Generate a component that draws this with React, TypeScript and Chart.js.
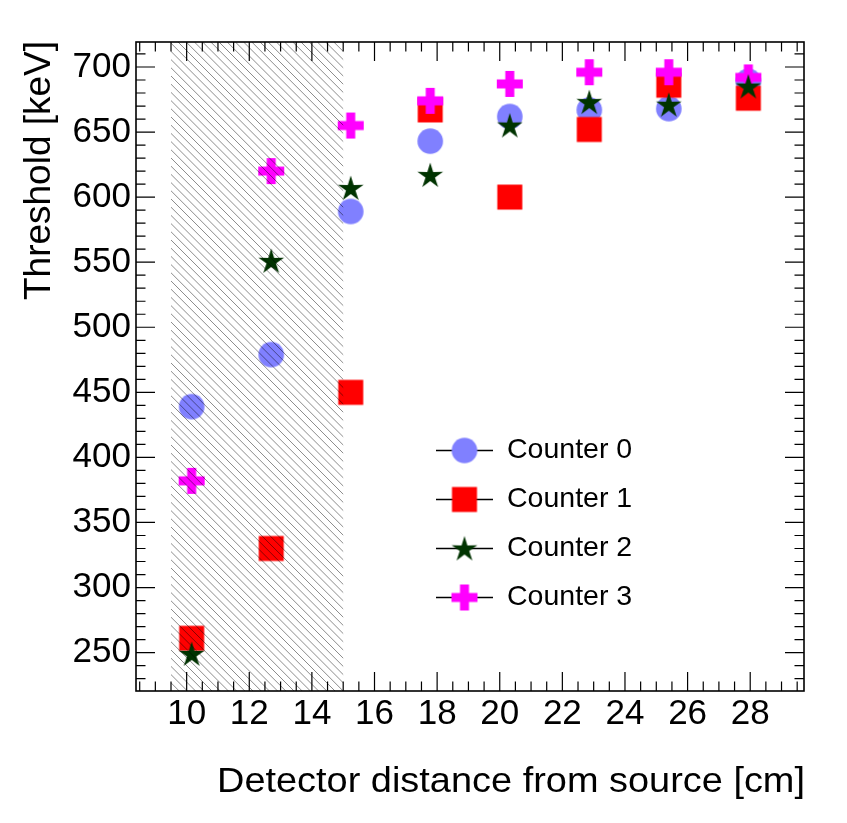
import { useEffect, useRef } from "react";
import { Chart, registerables } from "chart.js";
import type { Plugin } from "chart.js";

Chart.register(...registerables);

// detector distances (4..11 inch in cm)
const distances = [10.16, 12.7, 15.24, 17.78, 20.32, 22.86, 25.4, 27.94];
const counter0 = [439, 479, 589, 643, 662, 667, 668, 689];
const counter1 = [261, 330, 450, 667, 600, 652, 686, 676];
const counter2 = [249, 551, 607, 617, 655, 673, 671, 685];
const counter3 = [382, 620, 655, 674, 687, 696, 696, 692];
const seriesNames = ["Counter 0", "Counter 1", "Counter 2", "Counter 3"];

const xTicks = [10, 12, 14, 16, 18, 20, 22, 24, 26, 28];
const yTicks = [250, 300, 350, 400, 450, 500, 550, 600, 650, 700];
const shadedRange = [9.5, 15];
const xRange = [8.382, 29.718];
const yRange = [220.5, 719.2];

const xTitle = "Detector distance from source [cm]";
const yTitle = "Threshold [keV]";
const FONT = "'Liberation Sans', Arial, Helvetica, sans-serif";

function makeMarker(kind: string, color: string): HTMLCanvasElement {
  const c = document.createElement("canvas");
  const s = 30;
  c.width = s;
  c.height = s;
  const g = c.getContext("2d")!;
  const m = s / 2;
  g.fillStyle = color;
  if (kind === "circle") {
    g.beginPath();
    g.arc(m, m, 12.8, 0, Math.PI * 2);
    g.fill();
  } else if (kind === "square") {
    g.fillRect(m - 12.5, m - 12.5, 25, 25);
  } else if (kind === "star") {
    g.beginPath();
    for (let i = 0; i < 10; i++) {
      const r = i % 2 === 0 ? 13.5 : 5;
      const ang = -Math.PI / 2 + (i * Math.PI) / 5;
      const px = m + r * Math.cos(ang);
      const py = m + 1 + r * Math.sin(ang);
      if (i === 0) g.moveTo(px, py);
      else g.lineTo(px, py);
    }
    g.closePath();
    g.fill();
  } else {
    g.fillRect(m - 4.5, m - 13, 9, 26);
    g.fillRect(m - 13, m - 4.5, 26, 9);
  }
  return c;
}

function fitText(
  ctx: CanvasRenderingContext2D,
  text: string,
  width: number
) {
  const w = ctx.measureText(text).width;
  ctx.scale(width / w, 1);
  ctx.fillText(text, 0, 0);
}

const rootStyle: Plugin<"scatter"> = {
  id: "rootStyle",
  afterDatasetsDraw(chart) {
    const { ctx, chartArea: a, scales } = chart;
    const x0 = scales.x.getPixelForValue(shadedRange[0]);
    const x1 = scales.x.getPixelForValue(shadedRange[1]);
    const h = a.bottom - a.top;
    ctx.save();
    ctx.beginPath();
    ctx.rect(x0, a.top, x1 - x0, h);
    ctx.clip();
    ctx.strokeStyle = "rgba(0,0,0,0.7)";
    ctx.lineWidth = 0.65;
    ctx.beginPath();
    for (let s = x0 - h; s < x1; s += 8.2) {
      ctx.moveTo(s, a.top);
      ctx.lineTo(s + h, a.bottom);
    }
    ctx.stroke();
    ctx.restore();
  },
  afterDraw(chart) {
    const { ctx, chartArea: a, scales } = chart;
    const xs = scales.x;
    const ys = scales.y;
    ctx.save();

    // ticks on all four sides, ROOT style
    ctx.strokeStyle = "#000";
    ctx.lineWidth = 1.2;
    ctx.beginPath();
    for (let v = 8.5; v <= 29.5; v += 0.5) {
      const len = xTicks.includes(v) ? 19 : 9.5;
      const p = xs.getPixelForValue(v);
      ctx.moveTo(p, a.bottom);
      ctx.lineTo(p, a.bottom - len);
      ctx.moveTo(p, a.top);
      ctx.lineTo(p, a.top + len);
    }
    for (let v = 230; v <= 710; v += 10) {
      const len = yTicks.includes(v) ? 19 : 9.5;
      const p = ys.getPixelForValue(v);
      ctx.moveTo(a.left, p);
      ctx.lineTo(a.left + len, p);
      ctx.moveTo(a.right, p);
      ctx.lineTo(a.right - len, p);
    }
    ctx.stroke();

    ctx.lineWidth = 1.6;
    ctx.strokeRect(a.left, a.top, a.right - a.left, a.bottom - a.top);

    // axis titles
    ctx.fillStyle = "#000";
    ctx.font = `35px ${FONT}`;
    ctx.textBaseline = "alphabetic";
    ctx.textAlign = "left";
    ctx.save();
    ctx.translate(217, 792);
    fitText(ctx, xTitle, 588);
    ctx.restore();

    ctx.font = `36px ${FONT}`;
    ctx.save();
    ctx.translate(50, 300);
    ctx.rotate(-Math.PI / 2);
    fitText(ctx, yTitle, 259);
    ctx.restore();

    // legend
    const rows = [450.5, 499.5, 548.5, 597.5];
    ctx.font = `28.5px ${FONT}`;
    ctx.textBaseline = "middle";
    chart.data.datasets.forEach((ds, i) => {
      const y = rows[i];
      ctx.strokeStyle = "#000";
      ctx.lineWidth = 1.3;
      ctx.beginPath();
      ctx.moveTo(436, y);
      ctx.lineTo(493, y);
      ctx.stroke();
      const img = ds.pointStyle as unknown as HTMLCanvasElement;
      ctx.drawImage(img, 464.5 - img.width / 2, y - img.height / 2);
      ctx.fillText(seriesNames[i], 507, y);
    });

    ctx.restore();
  },
};

export default function App() {
  const canvasRef = useRef<HTMLCanvasElement | null>(null);

  useEffect(() => {
    if (!canvasRef.current) return;
    const series = [counter0, counter1, counter2, counter3];
    const markers = [
      makeMarker("circle", "#8080ff"),
      makeMarker("square", "#ff0000"),
      makeMarker("star", "#003300"),
      makeMarker("plus", "#ff00ff"),
    ];
    const drawOrder = [3, 2, 0, 1];

    const chart = new Chart(canvasRef.current, {
      type: "scatter",
      data: {
        datasets: series.map((vals, i) => ({
          label: seriesNames[i],
          data: distances.map((d, j) => ({ x: d, y: vals[j] })),
          pointStyle: markers[i] as any,
          pointRadius: 12,
          order: drawOrder[i],
          showLine: false,
        })),
      },
      options: {
        responsive: false,
        animation: false,
        events: [],
        layout: { padding: { top: 42, right: 43, left: 0, bottom: 0 } },
        plugins: {
          legend: { display: false },
          tooltip: { enabled: false },
        },
        scales: {
          x: {
            type: "linear",
            min: xRange[0],
            max: xRange[1],
            grid: { display: false, drawTicks: false },
            border: { display: false },
            afterBuildTicks: (s) => {
              s.ticks = xTicks.map((v) => ({ value: v }));
            },
            afterFit: (s) => {
              s.height = 132;
            },
            ticks: {
              padding: 2,
              color: "#000",
              maxRotation: 0,
              autoSkip: false,
              font: { family: FONT, size: 35 },
            },
          },
          y: {
            type: "linear",
            min: yRange[0],
            max: yRange[1],
            grid: { display: false, drawTicks: false },
            border: { display: false },
            afterBuildTicks: (s) => {
              s.ticks = yTicks.map((v) => ({ value: v }));
            },
            afterFit: (s) => {
              s.width = 136;
            },
            ticks: {
              padding: 5,
              color: "#000",
              autoSkip: false,
              font: { family: FONT, size: 35 },
            },
          },
        },
      },
      plugins: [rootStyle],
    });

    return () => chart.destroy();
  }, []);

  return (
    <div
      style={{
        position: "fixed",
        left: 0,
        top: 0,
        width: 847,
        height: 823,
        background: "#fff",
      }}
    >
      <canvas ref={canvasRef} width={847} height={823} />
    </div>
  );
}
